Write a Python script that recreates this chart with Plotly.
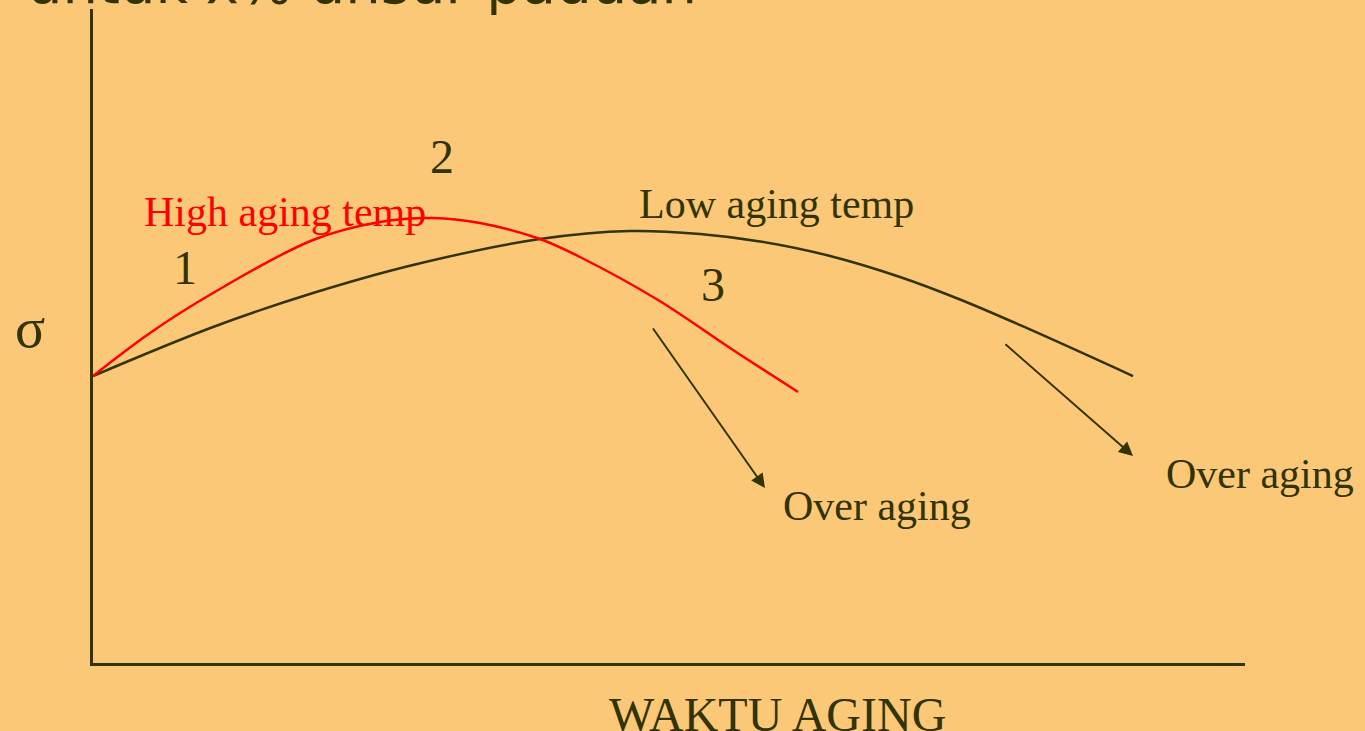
import plotly.graph_objects as go

# Data (arbitrary units: x = aging time, y = strength)
high_x = [0, 4.95, 10.42, 19.10, 24.91, 29.51, 33.59, 38.80, 42.27, 49.05, 55.56, 61.20]
high_y = [43.88, 50.46, 56.57, 64.68, 67.43, 68.04, 67.28, 64.83, 62.08, 55.50, 47.86, 41.44]

low_x = [0, 10.42, 19.10, 27.78, 38.80, 46.61, 52.69, 57.90, 63.98, 70.05, 75.26, 81.08, 90.28]
low_y = [43.88, 51.38, 56.57, 60.86, 64.83, 66.06, 65.60, 64.45, 62.23, 59.02, 55.58, 51.20, 43.88]

BG = "#FBC877"
DARK = "#333300"
RED = "#FF0000"
SERIF = "Liberation Serif, Times New Roman, Times, serif"

fig = go.Figure()
fig.add_trace(go.Scatter(x=low_x, y=low_y, mode="lines", line=dict(color=DARK, width=2.5, shape="spline", smoothing=1.0),
                         hoverinfo="skip", showlegend=False, cliponaxis=False))
fig.add_trace(go.Scatter(x=high_x, y=high_y, mode="lines", line=dict(color=RED, width=2.5, shape="spline", smoothing=1.0),
                         hoverinfo="skip", showlegend=False, cliponaxis=False))

ann = []
def txt(x, y, s, size=42, color=DARK, xref="x", yref="y", xanchor="center", yanchor="middle", family=SERIF):
    ann.append(dict(x=x, y=y, text=s, showarrow=False, xref=xref, yref=yref, xanchor=xanchor, yanchor=yanchor,
                    font=dict(family=family, size=size, color=color)))

txt(16.67, 68.96, "High aging temp", color=RED)
txt(59.29, 70.18, "Low aging temp")
txt(7.99, 60.40, "1", size=48)
txt(30.30, 77.52, "2", size=48)
txt(53.82, 57.95, "3", size=48)
txt(68.06, 24.0, "Over aging")
txt(1.013, 28.9, "Over aging", xref="paper")
txt(0.5945, -0.079, "WAKTU AGING", size=48, xref="paper", yref="paper")
txt(-0.0547, 51.3, "σ", size=56, xref="paper")
txt(-0.0590, 0.987, "untuk x% unsur paduan", size=56, xref="paper", yref="paper", xanchor="left", yanchor="bottom",
    family="DejaVu Sans, sans-serif")

# arrows
for (tx, ty, hx, hy) in [(48.52, 51.38, 58.33, 26.76), (79.08, 48.93, 90.28, 31.65)]:
    ann.append(dict(x=hx, y=hy, ax=tx, ay=ty, xref="x", yref="y", axref="x", ayref="y", text="",
                    showarrow=True, arrowhead=2, arrowsize=1.4, arrowwidth=2, arrowcolor=DARK))

fig.update_layout(
    width=1365, height=731,
    margin=dict(l=93, r=120, t=9, b=68),
    paper_bgcolor=BG, plot_bgcolor=BG,
    annotations=ann,
    xaxis=dict(range=[0, 100], showgrid=False, zeroline=False, showticklabels=False, ticks="",
               showline=True, linecolor=DARK, linewidth=3, fixedrange=True),
    yaxis=dict(range=[0, 100], showgrid=False, zeroline=False, showticklabels=False, ticks="",
               showline=True, linecolor=DARK, linewidth=3, fixedrange=True),
)
fig.write_html("out.html", config={"displayModeBar": False},
               post_script="document.body.style.margin='0';document.body.style.background='" + BG + "';")
